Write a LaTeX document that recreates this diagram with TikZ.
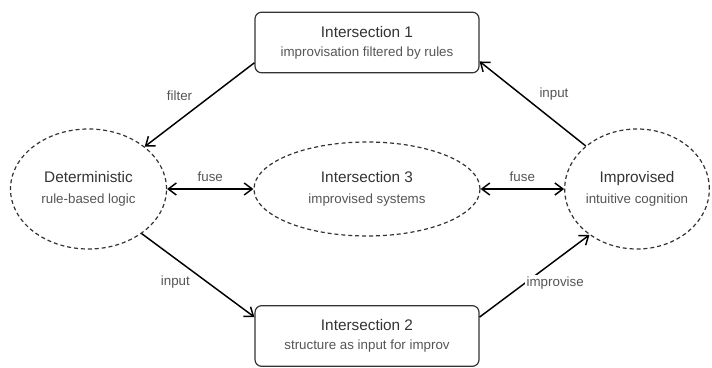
\documentclass[tikz,border=0pt]{standalone}
\usepackage{fontspec}
\setmainfont{Liberation Sans}
\usetikzlibrary{shapes.geometric,arrows.meta}

\definecolor{inkdark}{HTML}{333333}
\definecolor{inkgray}{HTML}{555555}
\newcommand{\ttl}[1]{{\fontsize{11.5}{13}\selectfont\color{inkdark}#1}}
\newcommand{\subline}[1]{{\fontsize{10}{12}\selectfont\color{inkgray}#1}}

\tikzset{
  >={Straight Barb[length=6pt,width=9pt]},
  mode/.style={ellipse, draw=inkdark, line width=0.9pt, dash pattern=on 3pt off 2.2pt, inner sep=0pt, align=center},
  joint/.style={rectangle, rounded corners=5pt, draw=inkdark, line width=0.9pt, minimum width=168pt, minimum height=45.5pt, align=center},
  link/.style={line width=1.1pt, ->},
  tag/.style={fill=white, inner sep=1.5pt, text=inkgray, font=\fontsize{10}{12}\selectfont},
}

\begin{document}
\begin{tikzpicture}[x=0.75pt, y=-0.75pt]
\useasboundingbox (0,0) rectangle (712,367);

\node[joint] (int1) at (367,42.5) {\ttl{Intersection 1}\\[2pt]\subline{improvisation filtered by rules}};
\node[joint] (int2) at (367,336) {\ttl{Intersection 2}\\[2pt]\subline{structure as input for improv}};
\node[mode, minimum width=117pt, minimum height=90pt] (det) at (88.5,189) {\ttl{Deterministic}\\[4pt]\subline{rule-based logic}};
\node[mode, minimum width=169.5pt, minimum height=70.5pt] (int3) at (367,189) {\ttl{Intersection 3}\\[4pt]\subline{improvised systems}};
\node[mode, minimum width=104pt, minimum height=90pt] (impr) at (637,189) {\ttl{Improvised}\\[4pt]\subline{intuitive cognition}};

\draw[link] ([yshift=8pt]int1.south west) -- (det.37) node[tag, midway, xshift=-15pt, yshift=7pt] {filter};
\draw[link] (impr.140) -- ([yshift=9pt]int1.south east) node[tag, midway, xshift=16pt, yshift=7.5pt] {input};
\draw[link] (det.-40) -- ([yshift=-9pt]int2.north west) node[tag, midway, xshift=-17pt, yshift=-5pt] {input};
\draw[link] ([yshift=-9pt]int2.north east) -- (impr.224) node[tag, midway, xshift=15.5pt, yshift=-5.5pt] {improvise};
\draw[link, <->] (det.east) -- (int3.west) node[tag, midway, yshift=9pt] {fuse};
\draw[link, <->] (int3.east) -- (impr.west) node[tag, midway, yshift=9pt] {fuse};
\end{tikzpicture}
\end{document}
